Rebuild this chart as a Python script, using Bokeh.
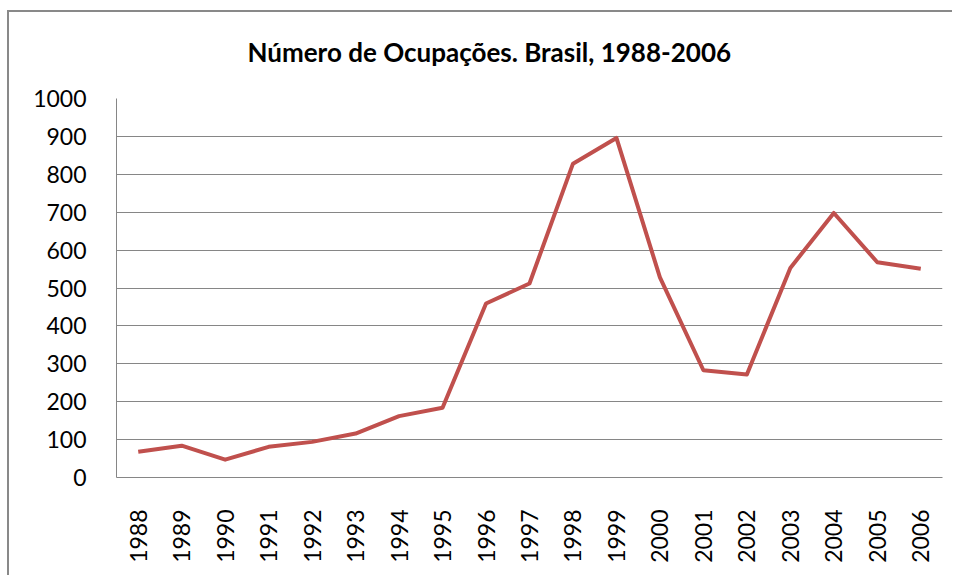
from bokeh.plotting import figure
from bokeh.models import FixedTicker, Range1d, FactorRange, Title
from bokeh.embed import file_html
from bokeh.resources import INLINE
import math

years = ["1988", "1989", "1990", "1991", "1992", "1993", "1994", "1995", "1996", "1997",
         "1998", "1999", "2000", "2001", "2002", "2003", "2004", "2005", "2006"]
ocupacoes = [68, 84, 47, 81, 94, 116, 162, 184, 459, 512,
             828, 896, 528, 283, 272, 553, 698, 568, 551]
y_ticks = [0, 100, 200, 300, 400, 500, 600, 700, 800, 900, 1000]
title_text = "Número de Ocupações. Brasil, 1988-2006"

FONT = "Lato"
GRID = "#868686"
W, H = 945, 565

p = figure(width=W, height=H, x_range=FactorRange(*years), y_range=Range1d(0, 1000),
           output_backend="svg", toolbar_location=None,
           min_border_left=107, min_border_right=12, min_border_bottom=100, min_border_top=86)

t = Title(text=title_text + "\n", align="left", offset=131, vertical_align="top",
          text_font=FONT, text_font_size="26px", text_font_style="bold",
          text_color="#000000", standoff=-6)
p.add_layout(t, "above")
p.title.visible = False

p.line(years, ocupacoes, line_color="#C0504D", line_width=4, line_join="round")

p.yaxis.ticker = FixedTicker(ticks=y_ticks)
p.ygrid.ticker = FixedTicker(ticks=y_ticks)
p.xgrid.grid_line_color = None
p.ygrid.grid_line_color = GRID
p.ygrid.grid_line_width = 1
for ax in (p.xaxis, p.yaxis):
    ax.major_tick_line_color = None
    ax.minor_tick_line_color = None
    ax.axis_line_color = GRID
    ax.major_label_text_font = FONT
    ax.major_label_text_font_size = "23px"
    ax.major_label_text_color = "#000000"
p.yaxis.major_label_standoff = 24
p.xaxis.major_label_standoff = 26
p.xaxis.major_label_orientation = math.pi / 2
p.outline_line_color = None
p.x_range.range_padding = 0
p.styles = {"border-left": "2px solid #898989", "border-top": "2px solid #898989",
            "margin-left": "7px", "margin-top": "10px"}

open("out.html", "w").write(file_html(p, INLINE))
